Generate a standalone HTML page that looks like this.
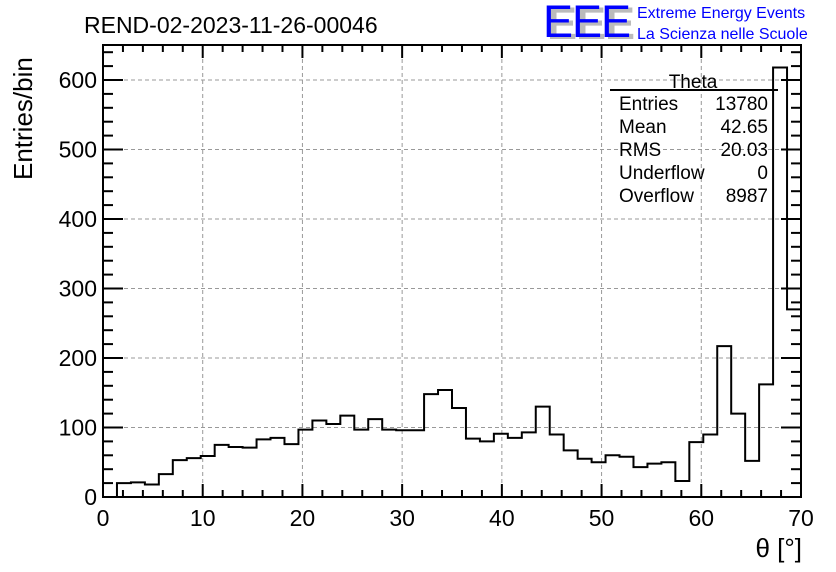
<!DOCTYPE html>
<html><head><meta charset="utf-8"><style>
body{margin:0;background:#fff}
svg{display:block;font-family:"Liberation Sans",sans-serif}
</style></head><body>
<svg width="836" height="572" viewBox="0 0 836 572" xmlns="http://www.w3.org/2000/svg">
<rect width="836" height="572" fill="#fff"/>
<g id="grid"></g>
<g id="hist"></g>
<rect x="103" y="45" width="698" height="452" fill="none" stroke="#000" stroke-width="2"/>
<g id="axes"></g>
<text x="84" y="33" font-size="23">REND-02-2023-11-26-00046</text>
<text transform="translate(32,180) rotate(-90)" font-size="26">Entries/bin</text>
<text x="802" y="557" font-size="26" text-anchor="end">θ [°]</text>
<g>
<text x="547" y="39" font-size="45" fill="#bbb" font-weight="bold" letter-spacing="-1">EEE</text>
<text x="543" y="37" font-size="45" fill="#0000ff" letter-spacing="-1">EEE</text>
<text x="637" y="18" font-size="16" fill="#0000ff">Extreme Energy Events</text>
<text x="637" y="39" font-size="16" fill="#0000ff">La Scienza nelle Scuole</text>
</g>
<g font-size="19">
<text x="693" y="88" text-anchor="middle">Theta</text>
<line x1="610" y1="90" x2="778" y2="90" stroke="#000" stroke-width="2"/>
<text x="619" y="110">Entries</text><text x="768" y="110" text-anchor="end">13780</text>
<text x="619" y="133">Mean</text><text x="768" y="133" text-anchor="end">42.65</text>
<text x="619" y="156">RMS</text><text x="768" y="156" text-anchor="end">20.03</text>
<text x="619" y="179">Underflow</text><text x="768" y="179" text-anchor="end">0</text>
<text x="619" y="202">Overflow</text><text x="768" y="202" text-anchor="end">8987</text>
</g>
</svg>
<script>
const binStart = 0, binWidth = 1.4;
const counts = [0,20,21,18,33,53,56,59,75,72,71,83,85,76,97,110,105,117,97,112,97,96,96,148,154,128,84,80,91,85,93,130,90,67,55,50,60,58,43,48,50,23,79,90,217,120,52,162,618,270];
const xTicks = [0,10,20,30,40,50,60,70];
const yTicks = [0,100,200,300,400,500,600];
const X0=103,X1=801,Y0=497,YT=45;
const xs = v => X0 + (v-0)/(70-0)*(X1-X0);
const ys = v => Y0 - v/600*(Y0-80);
const NS="http://www.w3.org/2000/svg";
function mk(tag, attrs, parent){const e=document.createElementNS(NS,tag);for(const k in attrs)e.setAttribute(k,attrs[k]);parent.appendChild(e);return e;}
const grid=document.getElementById('grid'), axes=document.getElementById('axes'), hist=document.getElementById('hist');
xTicks.forEach(t=>{
  if(t>0&&t<70){const l=mk('line',{x1:xs(t),x2:xs(t),y1:YT,y2:Y0,stroke:'#999','stroke-dasharray':'4,3','stroke-width':1},grid);
  
  }
  const tk=mk('line',{x1:xs(t),x2:xs(t),y1:Y0,y2:Y0-13,stroke:'#000','stroke-width':2},axes);
  
  
  const tp=mk('line',{x1:xs(t),x2:xs(t),y1:YT,y2:YT+13,stroke:'#000','stroke-width':2},axes);
  
  
  const tx=mk('text',{x:xs(t),y:526,'font-size':23,'text-anchor':'middle'},axes);tx.textContent=t;
  
  
});
for(let m=2;m<70;m+=2){if(m%10===0)continue;
  [[Y0,Y0-7],[YT,YT+7]].forEach(p=>{const l=mk('line',{x1:xs(m),x2:xs(m),y1:p[0],y2:p[1],stroke:'#000','stroke-width':2},axes);
  
  });}
yTicks.forEach(t=>{
  if(t>0){const l=mk('line',{x1:X0,x2:X1,y1:ys(t),y2:ys(t),stroke:'#999','stroke-dasharray':'4,3','stroke-width':1},grid);
  
  }
  [[X0,X0+20],[X1,X1-20]].forEach(p=>{const l=mk('line',{x1:p[0],x2:p[1],y1:ys(t),y2:ys(t),stroke:'#000','stroke-width':2},axes);
  
  });
  const tx=mk('text',{x:97,y:ys(t)+8,'font-size':23,'text-anchor':'end'},axes);tx.textContent=t;
  
  
});
for(let m=20;m<=640;m+=20){if(m%100===0)continue;const y=ys(m);if(y<YT)break;
  [[X0,X0+10],[X1,X1-10]].forEach(p=>{const l=mk('line',{x1:p[0],x2:p[1],y1:y,y2:y,stroke:'#000','stroke-width':2},axes);
  
  });}
let d='M'+xs(binStart)+','+ys(0);
counts.forEach((c,i)=>{const a=binStart+i*binWidth,b=a+binWidth;d+=' L'+xs(a)+','+ys(c)+' L'+xs(b)+','+ys(c);});
d+=' L'+xs(binStart+counts.length*binWidth)+','+ys(0);
const p=mk('path',{d:d,fill:'none',stroke:'#000','stroke-width':2},hist);


</script>
</body></html>
